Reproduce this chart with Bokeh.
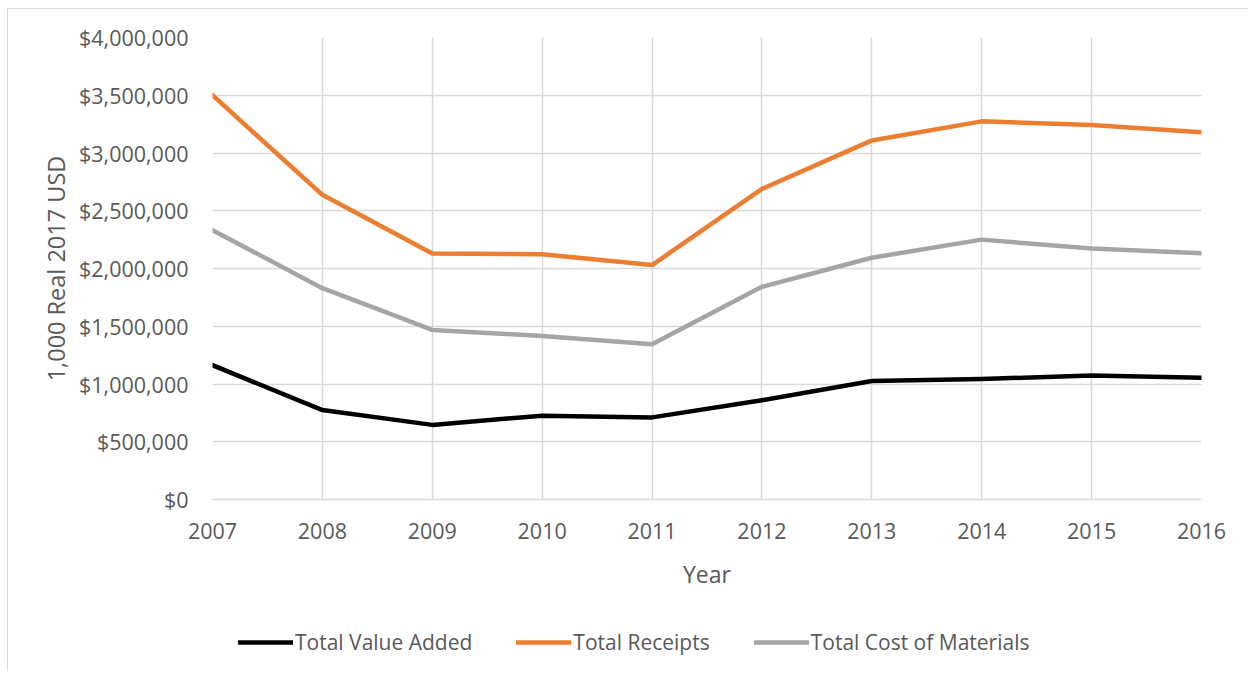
from bokeh.plotting import figure
from bokeh.layouts import column
from bokeh.models import FixedTicker, SingleIntervalTicker, NumeralTickFormatter, Range1d, Legend, LegendItem
from bokeh.embed import file_html
from bokeh.resources import INLINE

years = [2007, 2008, 2009, 2010, 2011, 2012, 2013, 2014, 2015, 2016]
value_added = [1163000, 774000, 646000, 726000, 711000, 860000, 1026000, 1043000, 1074000, 1054000]
receipts = [3500000, 2638000, 2130000, 2124000, 2030000, 2689000, 3109000, 3274000, 3243000, 3180000]
cost_materials = [2332000, 1830000, 1468000, 1416000, 1345000, 1842000, 2093000, 2250000, 2173000, 2133000]

series_names = ["Total Value Added", "Total Receipts", "Total Cost of Materials"]
series_colors = ["#000000", "#ED7D31", "#A5A5A5"]

FONT = "Open Sans"
TXT = "#595959"
GRID = "#d9d9d9"

p = figure(width=1240, height=583, output_backend="svg", toolbar_location=None,
           x_range=Range1d(2007, 2016), y_range=Range1d(0, 4000000),
           min_border_left=204, min_border_right=47, min_border_top=28, min_border_bottom=89)
p.outline_line_color = None
p.background_fill_color = "white"
p.border_fill_color = "white"

renderers = []
for vals, col in zip([value_added, receipts, cost_materials], series_colors):
    r = p.line(years, vals, line_color=col, line_width=4.5, line_join="round", line_cap="round")
    renderers.append(r)

# axes
p.xaxis.ticker = FixedTicker(ticks=years)
p.yaxis.ticker = SingleIntervalTicker(interval=500000)
p.yaxis.formatter = NumeralTickFormatter(format="$0,0")
for ax in [p.xaxis[0], p.yaxis[0]]:
    ax.major_tick_line_color = None
    ax.minor_tick_line_color = None
    ax.major_label_text_font = FONT
    ax.major_label_text_font_size = "21.5px"
    ax.major_label_text_color = TXT
    ax.axis_label_text_font = FONT
    ax.axis_label_text_color = TXT
    ax.axis_label_text_font_style = "normal"
p.xaxis.axis_label_text_font_size = "23px"
p.yaxis.axis_label_text_font_size = "23.5px"
p.yaxis.axis_line_color = None
p.xaxis.axis_line_color = GRID
p.xaxis.axis_line_width = 1.5
p.xaxis.axis_label = "Year"
p.yaxis.axis_label = "1,000 Real 2017 USD"
p.yaxis.major_label_standoff = 18
p.xaxis.major_label_standoff = 17
p.yaxis.axis_label_standoff = 4
p.xaxis.axis_label_standoff = 16

p.xgrid.ticker = FixedTicker(ticks=years)
p.xgrid.grid_line_color = GRID
p.ygrid.grid_line_color = GRID
p.xgrid.grid_line_width = 1.5
p.ygrid.grid_line_width = 1.5

# legend strip below the chart (its frame is aligned with the chart's frame)
lg = figure(width=1240, height=79, output_backend="svg", toolbar_location=None,
            x_range=Range1d(0, 1), y_range=Range1d(0, 1),
            min_border=0, min_border_left=0, min_border_right=0, min_border_top=0, min_border_bottom=0)
lg.axis.visible = False
lg.grid.visible = False
lg.outline_line_color = None
lg.border_fill_color = "white"
leg_renderers = []
for col in series_colors:
    r = lg.line([-10, -9], [-10, -9], line_color=col, line_width=4.5, line_cap="round")
    leg_renderers.append(r)
items = [LegendItem(label=n, renderers=[r]) for n, r in zip(series_names, leg_renderers)]
legend = Legend(items=items, orientation="horizontal", location=(26, 15),
                label_text_font=FONT, label_text_font_size="21px", label_text_color=TXT,
                glyph_width=55, label_standoff=2, spacing=44, border_line_color=None,
                background_fill_alpha=0, margin=0, padding=0)
lg.add_layout(legend)

layout = column(p, lg, spacing=0,
                styles={"margin-left": "7px", "margin-top": "8px",
                        "border-left": "1px solid #d9d9d9", "border-top": "1px solid #d9d9d9"})

open("out.html", "w").write(file_html(layout, INLINE))
